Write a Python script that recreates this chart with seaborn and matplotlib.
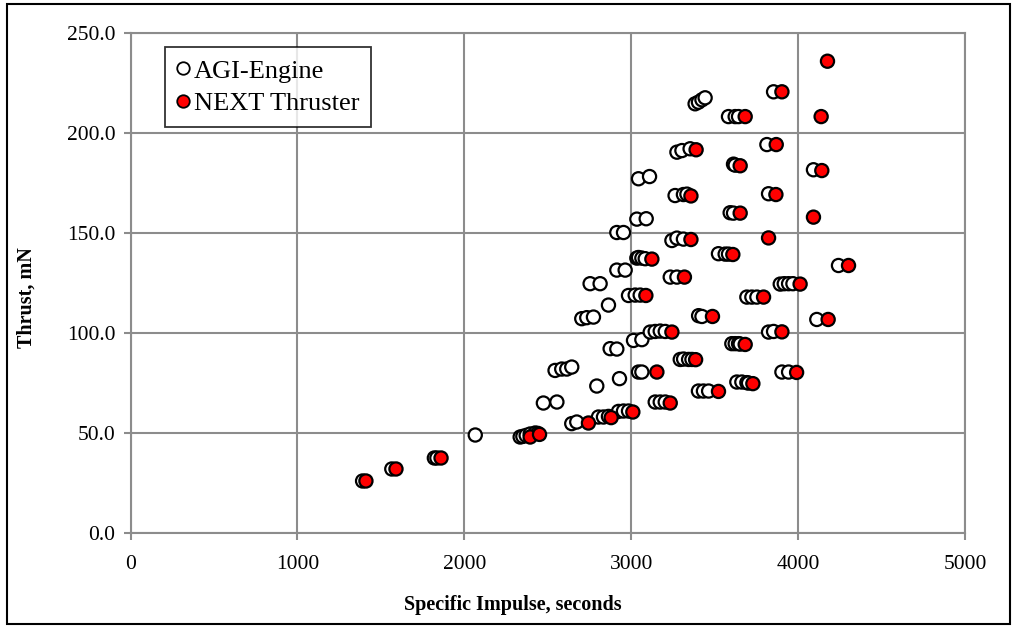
import pandas as pd
import seaborn as sns
import matplotlib.pyplot as plt
from matplotlib.lines import Line2D
from matplotlib.patches import Rectangle

# AGI-Engine points (specific impulse s, thrust mN)
agi_isp = [1390, 1565, 1820, 1835, 2065,
           2334, 2350, 2370, 2394, 2424, 2440,
           2643, 2673, 2803, 2833, 2863, 2923, 2953, 2983,
           2473, 2554, 3143, 3173, 3203, 2793, 2929,
           2543, 2583, 2613, 2643, 3043, 3063,
           2873, 2913, 3013, 3063, 3113, 3143, 3173, 3203,
           3293, 3313, 3343, 3363, 3402, 3432, 3463,
           3632, 3662, 3692, 3702, 3902, 3942,
           3602, 3622, 3642, 3652, 3822, 3852,
           3403, 3423, 4111, 2703, 2733, 2773, 2863,
           2983, 3023, 3053, 3692, 3722, 3752,
           2753, 2813, 3233, 3273, 3892, 3916, 3942, 3968, 4241,
           2913, 2963, 3033, 3043, 3063, 3083,
           3522, 3562, 3582, 2913, 2953, 3243, 3273, 3312,
           3033, 3089, 3592, 3612, 3262, 3312, 3333, 3822,
           3043, 3109, 4091, 3612, 3622, 3273, 3303, 3352, 3812,
           3582, 3622, 3642, 3382, 3402, 3423, 3442, 3852]
agi_thrust = [26.0, 32.0, 37.5, 37.5, 49.0,
              48.0, 48.3, 48.8, 49.5, 50.0, 49.8,
              54.7, 55.5, 58.0, 58.0, 58.3, 60.8, 61.0, 61.0,
              65.0, 65.5, 65.5, 65.5, 65.5, 73.5, 77.2,
              81.3, 82.0, 82.0, 83.0, 80.5, 80.5,
              92.2, 92.0, 96.3, 96.7, 100.5, 100.8, 101.0, 100.8,
              86.8, 87.0, 86.8, 86.8, 71.0, 71.0, 71.0,
              75.5, 75.5, 75.2, 75.0, 80.5, 80.5,
              94.7, 94.7, 94.7, 94.5, 100.5, 100.8,
              108.7, 108.3, 106.8, 107.2, 107.7, 108.0, 114.0,
              118.8, 119.0, 119.0, 118.0, 118.0, 118.0,
              124.7, 124.7, 128.0, 128.0, 124.5, 124.7, 124.7, 124.7, 133.8,
              131.5, 131.5, 137.5, 137.8, 137.5, 137.2,
              139.7, 139.5, 139.5, 150.3, 150.3, 146.3, 147.5, 147.0,
              157.0, 157.2, 160.2, 160.0, 168.8, 169.3, 169.5, 169.7,
              177.2, 178.3, 181.7, 184.5, 184.0, 190.5, 191.3, 192.2, 194.3,
              208.3, 208.3, 208.3, 214.7, 215.5, 216.7, 217.7, 220.7]

# NEXT Thruster points
next_isp = [1410, 1590, 1860, 2394, 2450, 2743, 2879, 3009, 3233, 3153,
            3385, 3243, 3486, 3087, 3318, 3123, 3357, 3608, 3522, 3728,
            3682, 3990, 3902, 4179, 3792, 4011, 4301, 3822, 3652, 4091,
            3357, 3866, 3652, 4141, 3388, 3868, 3682, 4137, 3902, 4175]
next_thrust = [26.0, 32.0, 37.5, 48.0, 49.3, 55.0, 57.7, 60.5, 65.0, 80.5,
               86.7, 100.5, 108.3, 118.8, 128.0, 137.0, 146.8, 139.3, 70.8, 74.7,
               94.3, 80.3, 100.6, 106.8, 118.0, 124.5, 133.8, 147.6, 160.0, 158.0,
               168.6, 169.3, 183.7, 181.3, 191.7, 194.3, 208.3, 208.3, 220.7, 236.0]

series_names = ['AGI-Engine', 'NEXT Thruster']

df = pd.DataFrame({
    'isp': agi_isp + next_isp,
    'thrust': agi_thrust + next_thrust,
    'series': [series_names[0]] * len(agi_isp) + [series_names[1]] * len(next_isp),
})

sns.set_style('white')
plt.rcParams['font.family'] = ['Liberation Serif', 'DejaVu Serif']
plt.rcParams['text.color'] = 'black'
plt.rcParams['axes.labelcolor'] = 'black'

fig = plt.figure(figsize=(10.16, 6.27), dpi=100)
ax = fig.add_axes([0.1285, 0.150, 0.8215, 0.797])

sns.scatterplot(data=df, x='isp', y='thrust', hue='series',
                palette={'AGI-Engine': 'white', 'NEXT Thruster': '#ff0000'},
                edgecolor='black', linewidth=1.6, s=90, legend=False, ax=ax,
                zorder=3)

ax.set_xlim(0, 5000)
ax.set_ylim(0, 250)
ax.set_xticks(range(0, 5001, 1000))
ax.set_yticks(range(0, 251, 50))
ax.set_yticklabels([f'{v:.1f}' for v in range(0, 251, 50)])
ax.grid(True, color='#8c8c8c', linewidth=1.5)
ax.set_axisbelow(True)
for sp in ax.spines.values():
    sp.set_color('#8c8c8c')
    sp.set_linewidth(1.5)
ax.tick_params(axis='both', labelsize=15.5, length=5, width=1.5,
               color='#8c8c8c', labelcolor='black', direction='out',
               bottom=True, left=True)
ax.tick_params(axis='x', pad=11)
ax.tick_params(axis='y', pad=6)

# Excel-style titles: centred on the chart area rather than the plot area
ax.set_xlabel('Specific Impulse, seconds', fontsize=14.5, fontweight='bold')
ax.xaxis.set_label_coords(0.458, -0.125)
ax.set_ylabel('Thrust, mN', fontsize=14.5, fontweight='bold')
ax.yaxis.set_label_coords(-0.113, 0.471)

handles = [
    Line2D([], [], marker='o', linestyle='none', markersize=9,
           markerfacecolor='white', markeredgecolor='black', markeredgewidth=1.3),
    Line2D([], [], marker='o', linestyle='none', markersize=9,
           markerfacecolor='#ff0000', markeredgecolor='black', markeredgewidth=1.3),
]
leg = ax.legend(handles, series_names, loc='upper left',
                bbox_to_anchor=(0.041, 0.972), fontsize=19, frameon=True,
                fancybox=False, edgecolor='black', handlelength=0.5,
                handletextpad=0.15, borderpad=0.45, labelspacing=0.35,
                borderaxespad=0)
leg.get_frame().set_linewidth(1.3)
leg.set_zorder(5)

fig.patches.append(Rectangle((0.007, 0.005), 0.987, 0.989, transform=fig.transFigure,
                             fill=False, edgecolor='black', linewidth=1.5))

fig.savefig('out.png', dpi=100)
